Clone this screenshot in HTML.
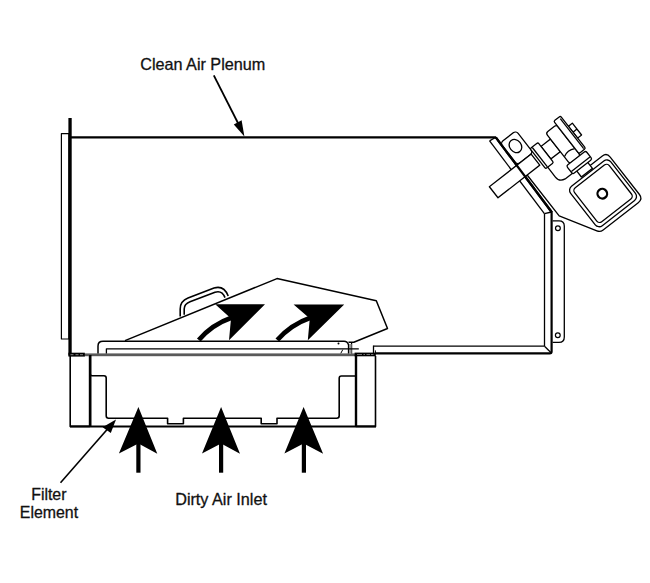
<!DOCTYPE html>
<html><head><meta charset="utf-8">
<style>
html,body{margin:0;padding:0;background:#fff;}
body{width:650px;height:583px;overflow:hidden;}
svg{display:block;}
text{font-family:"Liberation Sans",sans-serif;fill:#111;stroke:#111;stroke-width:0.3px;}
</style></head>
<body>
<svg width="650" height="583" viewBox="0 0 650 583">
<g fill="none" stroke="#000" stroke-linejoin="round" stroke-linecap="butt">

<!-- labels -->
<text x="140.2" y="70.2" font-size="16.2" stroke="none">Clean Air Plenum</text>
<text x="31.2" y="499.8" font-size="15.9" stroke="none">Filter</text>
<text x="19.8" y="518" font-size="15.9" stroke="none">Element</text>
<text x="175.2" y="504.8" font-size="16.2" stroke="none">Dirty Air Inlet</text>

<!-- leader arrows -->
<line x1="213.8" y1="75.4" x2="240" y2="127" stroke-width="1.8"/>
<polygon points="244.4,136.5 233.8,124.6 241.6,120.2" fill="#000" stroke="none"/>
<line x1="60.5" y1="482.7" x2="108" y2="428.5" stroke-width="1.6"/>
<polygon points="116,419.6 102.6,427.2 110.8,433" fill="#000" stroke="none"/>

<!-- plenum left -->
<rect x="61.4" y="133.6" width="7.5" height="205.4" stroke-width="1.2"/>
<rect x="68.4" y="118" width="3.3" height="237.5" fill="#000" stroke="none"/>
<line x1="70" y1="137.4" x2="496" y2="137.4" stroke-width="2.2"/>

<!-- diagonal wall -->
<line x1="495.8" y1="137.3" x2="551.6" y2="212" stroke-width="2.2"/>
<line x1="489.6" y1="140.9" x2="544.4" y2="213.7" stroke-width="1.3"/>
<line x1="489.6" y1="140.9" x2="495.8" y2="137.3" stroke-width="1.3"/>
<line x1="544.4" y1="213.7" x2="551.6" y2="212" stroke-width="1.3"/>

<!-- vertical right wall -->
<path d="M551.6,211 V351.5 Q551.6,353.4 549.7,353.4 H375" stroke-width="2.2"/>
<line x1="544.5" y1="213.7" x2="544.5" y2="346.3" stroke-width="1.3"/>
<line x1="373.3" y1="346.2" x2="544.5" y2="346.2" stroke-width="1.3"/>
<line x1="544.5" y1="346.3" x2="551.6" y2="353.3" stroke-width="1.3"/>
<line x1="375.4" y1="350.4" x2="375.4" y2="353" stroke-width="1"/>
<line x1="373.5" y1="345.6" x2="373.5" y2="353" stroke-width="1.3"/>

<!-- right bracket -->
<path d="M552.6,220.8 H559 Q564.3,220.8 564.3,226 V337 Q564.3,342.4 559,342.4 H552.6" stroke-width="1.3"/>
<circle cx="557.9" cy="228.3" r="2.4" stroke-width="1.2"/>
<circle cx="557.8" cy="335.2" r="2.4" stroke-width="1.2"/>

<!-- gray bar -->
<rect x="84" y="353.4" width="271" height="2.8" fill="#5a5a5a" stroke="none"/>
<rect x="68.4" y="352.7" width="16.4" height="3.9" fill="#000" stroke="none"/>
<path d="M70.5,354.7 h3 M75.5,354.7 h3 M80,354.7 h3" stroke="#808080" stroke-width="1"/>
<rect x="354.6" y="352.6" width="21.2" height="3.7" fill="#000" stroke="none"/>
<path d="M357,354.5 h5 M363.5,354.5 h1.5 M366.5,354.5 h3.5 M371,354.5 h2.5" stroke="#707070" stroke-width="1"/>
<!-- left/right boxes -->
<path d="M70.2,356 V426.4 H89.6 V356" stroke-width="1.6"/>
<line x1="90.3" y1="355" x2="90.3" y2="426.4" stroke-width="2.4"/>
<path d="M375.5,356 V426.4 H356 V356" stroke-width="1.6"/>
<line x1="356" y1="355" x2="356" y2="426.4" stroke-width="2.4"/>
<line x1="70" y1="426.6" x2="376" y2="426.6" stroke-width="2"/>

<!-- filter profile -->
<path d="M90.3,374 Q90.3,375.7 92,375.7 H104 Q106.2,375.7 106.2,378 V415.8 Q106.2,418.3 108.6,418.3 H167.6 V423.8 H183.4 V418.3 H261.2 V423.8 H277 V418.3 H336.6 Q339.2,418.3 339.2,415.8 V378.2 Q339.2,376 341.4,376 H356" stroke-width="1.6"/>

<!-- filter rim -->
<path d="M98,353.5 V346 Q98,341.3 103,341.3 H344 Q347.5,341.3 348.6,345 V353.5" stroke-width="1.5"/>
<path d="M351.6,342.5 V353.5" stroke-width="1.2"/>
<rect x="349" y="344" width="2.6" height="9.5" fill="#999" stroke="none"/>
<circle cx="338.5" cy="343.6" r="1" fill="#000" stroke="none"/>
<line x1="340.8" y1="353.3" x2="342.8" y2="349.6" stroke-width="1"/>
<path d="M106.4,353.5 V348.8 H358.8" stroke-width="1.3"/>

<!-- hood -->
<polyline points="125,340.6 277,278.6 376.3,300.8 387.5,328.5 353.8,342.3 348.5,342.3" stroke-width="1.5"/>
<!-- handle -->
<path d="M180.2,316.5 V309 Q180.2,301 188,298 L214,288 Q224,285 228.2,296" stroke-width="1.6"/>
<path d="M184.2,314.8 V309 Q184.2,304 190,301.8 L215,292.2 Q222,290 225,297.6" stroke-width="1.6"/>

<!-- curved arrows -->
<polygon points="215.2,304.2 265,304.2 229,340.2 231,318.6" fill="#000" stroke="none"/>
<path d="M198.8,340 Q212,324.5 232,317.5" stroke-width="4.8"/>
<polygon points="293.6,304.4 344.2,304.4 307.8,340.2 309.8,318.6" fill="#000" stroke="none"/>
<path d="M277.3,340 Q291,324.5 311,317.5" stroke-width="4.8"/>

<!-- inlet arrows -->
<polygon points="138.4,407 157.3,453.8 138.4,443.6 118.9,453.5" fill="#000" stroke="none"/>
<rect x="136.3" y="443" width="4.2" height="29.7" fill="#000" stroke="none"/>
<polygon points="221.1,407 240,453.8 221.1,443.6 202,453.5" fill="#000" stroke="none"/>
<rect x="219" y="443" width="4.2" height="29.7" fill="#000" stroke="none"/>
<polygon points="303.6,407 323.1,453.8 303.6,443.6 284.4,453.5" fill="#000" stroke="none"/>
<rect x="301.8" y="443" width="4.2" height="29.7" fill="#000" stroke="none"/>

<!-- motor assembly (local frame) -->
<g transform="translate(495.8,137.3) rotate(-38)" stroke-width="1.3">
  <path d="M1.5,49 V101 L22,136 Q23.8,139.2 27.5,139.2 H72 Q78,139.2 78,133.5 V86 Q78,80.3 72.5,80.3 H50" fill="#fff"/>
  <rect x="0" y="7.2" width="20" height="27.8" rx="3.5" fill="#fff"/>
  <rect x="4.4" y="12" width="11.4" height="14" rx="5.6" ry="6.5"/>
  <rect x="-35.5" y="35" width="53" height="14" fill="#fff"/>
  <path d="M22.5,55.5 V68 Q22.5,74.5 29,75.5 H38" fill="#fff"/>
  <rect x="43" y="76" width="14" height="8" fill="#fff"/>
  <rect x="30" y="35" width="12" height="16" fill="#fff"/>
  <rect x="20" y="30" width="10" height="25.5" rx="1.5" fill="#fff"/>
  <line x1="22.5" y1="30.5" x2="22.5" y2="55"/>
  <rect x="42" y="27.5" width="13.5" height="39" rx="2.5" fill="#fff"/>
  <path d="M42.3,57.5 Q48.5,53.8 55.3,57.5"/>
  <rect x="64" y="36" width="5" height="15" fill="#fff"/>
  <line x1="64" y1="43.5" x2="69" y2="43.5"/>
  <rect x="55.5" y="23" width="8.5" height="41" rx="1.5" fill="#fff"/>
  <line x1="62.3" y1="25" x2="62.3" y2="63"/>
  <rect x="38" y="66" width="24.5" height="10.5" rx="1.8" fill="#fff"/>
  <line x1="38.5" y1="73.5" x2="62" y2="73.5"/>
  <rect x="24.5" y="85.2" width="51" height="50" rx="5" fill="#fff"/>
  <rect x="28" y="88.7" width="44" height="43" rx="3.5"/>
  <circle cx="49.2" cy="110" r="4.8" stroke-width="2.3"/>
</g>
<line x1="495.8" y1="137.3" x2="551.6" y2="212" stroke-width="2.2"/>

</g>
</svg>
</body></html>
